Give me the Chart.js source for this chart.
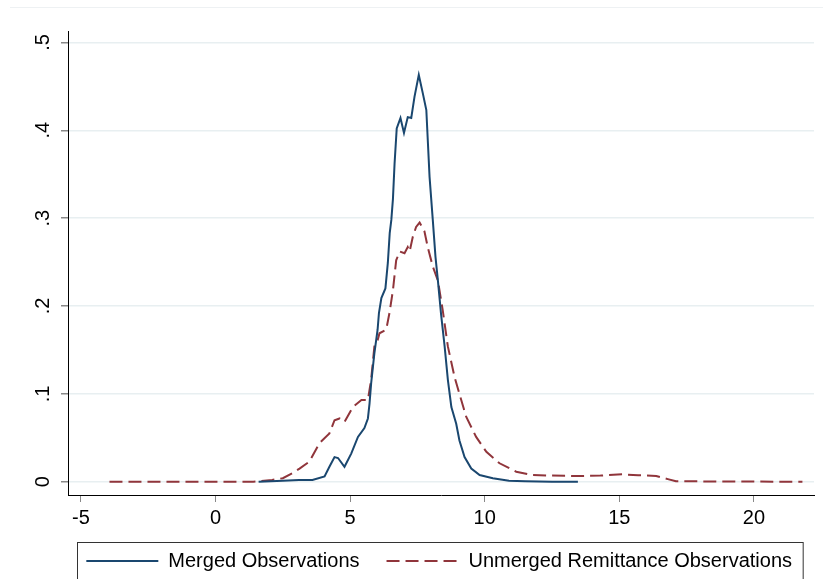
<!DOCTYPE html>
<html>
<head>
<meta charset="utf-8">
<script src="https://cdn.jsdelivr.net/npm/chart.js@4/dist/chart.umd.min.js"></script>
<style>
  body { margin: 0; background: #fff; }
  #wrap { position: relative; width: 823px; height: 579px; overflow: hidden; }
  #topRule { position: absolute; left: 10px; right: 0; top: 7px; border-top: 1px solid #eef1f3; }
</style>
</head>
<body>
<div id="wrap">
  <div id="topRule"></div>
  <canvas id="densityChart" width="823" height="579"></canvas>
</div>
<script>
// density estimates
const mergedX = [1.6, 2.5, 3.1, 3.6, 4.05, 4.23, 4.42, 4.55, 4.79, 5.04, 5.29, 5.53, 5.66, 5.72, 5.78,
  5.9, 6.02, 6.07, 6.16, 6.31, 6.4, 6.47, 6.53, 6.59, 6.65, 6.73, 6.87, 7.0, 7.14, 7.27, 7.39, 7.55,
  7.7, 7.83, 7.89, 7.95, 8.07, 8.17, 8.26, 8.38, 8.51, 8.63, 8.76, 8.94, 9.06, 9.25, 9.5, 9.81,
  10.3, 10.9, 11.5, 12.5, 13.46];
const mergedY = [0, 0.001, 0.002, 0.002, 0.006, 0.017, 0.028, 0.027, 0.017, 0.032, 0.051, 0.061, 0.072, 0.089, 0.112,
  0.146, 0.173, 0.192, 0.209, 0.22, 0.249, 0.283, 0.298, 0.322, 0.362, 0.402, 0.414, 0.397, 0.415, 0.414, 0.438, 0.463,
  0.442, 0.423, 0.385, 0.347, 0.298, 0.256, 0.229, 0.19, 0.154, 0.116, 0.085, 0.066, 0.047, 0.028, 0.015, 0.0076,
  0.004, 0.001, 0.0005, 0, 0];

const unmergedX = [-3.94, 1.4, 2.1, 2.5, 2.87, 3.12, 3.49, 3.86, 4.23, 4.42, 4.61, 4.79, 5.1, 5.42, 5.66, 5.78,
  5.9, 6.02, 6.09, 6.34, 6.46, 6.59, 6.71, 6.84, 7.02, 7.14, 7.21, 7.33, 7.45, 7.58, 7.76, 7.89, 8.07, 8.26,
  8.44, 8.56, 8.63, 8.88, 9.06, 9.31, 9.68, 10.06, 10.55, 11.17, 11.79, 12.5, 13.4, 14.3, 15.1, 15.7, 16.37,
  16.8, 17.1, 21.8];
const unmergedY = [0, 0, 0.002, 0.004, 0.01, 0.015, 0.023, 0.044, 0.055, 0.07, 0.072, 0.068, 0.085, 0.093, 0.093, 0.116,
  0.154, 0.161, 0.169, 0.173, 0.192, 0.218, 0.252, 0.262, 0.26, 0.267, 0.262, 0.279, 0.29, 0.295, 0.285, 0.266, 0.245, 0.229,
  0.195, 0.169, 0.154, 0.119, 0.1, 0.074, 0.051, 0.034, 0.021, 0.0114, 0.0076, 0.007, 0.0065, 0.007, 0.0084, 0.0075, 0.0065,
  0.003, 0.0005, 0];

const seriesLabels = ["Merged Observations", "Unmerged Remittance Observations"];
const xTicks = [-5, 0, 5, 10, 15, 20];
const yTicks = [0, 0.1, 0.2, 0.3, 0.4, 0.5];

const FONT = "'Liberation Sans', Arial, sans-serif";

function toPoints(xs, ys) {
  return xs.map((x, i) => ({ x: x, y: ys[i] }));
}

// Stata-style box around the legend, legend nudged to sit under the plot
const legendFrame = {
  id: "legendFrame",
  afterLayout(chart) {
    chart.legend.left += 5;
    chart.legend.right += 5;
  },
  afterDraw(chart) {
    const hb = chart.legend.legendHitBoxes;
    if (!hb || !hb.length) return;
    const left = Math.min(...hb.map(b => b.left)) - 9;
    const right = Math.max(...hb.map(b => b.left + b.width)) + 11;
    const top = hb[0].top - 9;
    const ctx = chart.ctx;
    ctx.save();
    ctx.strokeStyle = "#333";
    ctx.lineWidth = 1;
    ctx.strokeRect(Math.round(left) + 0.5, Math.round(top) + 0.5, right - left, chart.height + 10 - top);
    ctx.restore();
  }
};

const ctx = document.getElementById("densityChart").getContext("2d");

new Chart(ctx, {
  type: "line",
  data: {
    datasets: [
      {
        label: seriesLabels[0],
        data: toPoints(mergedX, mergedY),
        borderColor: "#1a476f",
        backgroundColor: "#1a476f",
        borderWidth: 2,
        pointRadius: 0,
        tension: 0,
        fill: false,
      },
      {
        label: seriesLabels[1],
        data: toPoints(unmergedX, unmergedY),
        borderColor: "#90353b",
        backgroundColor: "#90353b",
        borderWidth: 2,
        borderDash: [13, 6],
        pointRadius: 0,
        tension: 0,
        fill: false,
      },
    ],
  },
  options: {
    responsive: false,
    animation: false,
    layout: { padding: { left: 0, top: 31, right: 9, bottom: -2 } },
    plugins: {
      tooltip: { enabled: false },
      legend: {
        position: "bottom",
        align: "end",
        labels: {
          usePointStyle: true,
          pointStyle: "line",
          pointStyleWidth: 72,
          padding: 27,
          color: "#000",
          font: { family: FONT, size: 20 },
          generateLabels: chart =>
            Chart.defaults.plugins.legend.labels.generateLabels(chart).map(item => {
              item.lineDash = chart.data.datasets[item.datasetIndex].borderDash || [];
              item.lineWidth = 2;
              return item;
            }),
        },
      },
    },
    scales: {
      x: {
        type: "linear",
        min: -5.48,
        max: 22.23,
        afterBuildTicks: s => { s.ticks = xTicks.map(v => ({ value: v })); },
        afterFit: s => { s.height = 29; },
        border: { color: "#000", width: 1 },
        grid: { drawOnChartArea: false, tickLength: 7, tickColor: "#888" },
        ticks: { color: "#000", padding: 4, font: { family: FONT, size: 20 } },
      },
      y: {
        min: -0.0151,
        max: 0.513,
        afterBuildTicks: s => { s.ticks = yTicks.map(v => ({ value: v })); },
        afterFit: s => { s.width = 68; },
        border: { color: "#000", width: 1 },
        grid: { color: "#e8eff1", lineWidth: 1.5, tickLength: 7, tickColor: "#888" },
        ticks: {
          color: "#000",
          padding: 9,
          minRotation: 90,
          maxRotation: 90,
          crossAlign: "center",
          font: { family: FONT, size: 20 },
          callback: v => (v === 0 ? "0" : String(Number(v.toFixed(1))).replace("0.", ".")),
        },
      },
    },
  },
  plugins: [legendFrame],
});
</script>
</body>
</html>
